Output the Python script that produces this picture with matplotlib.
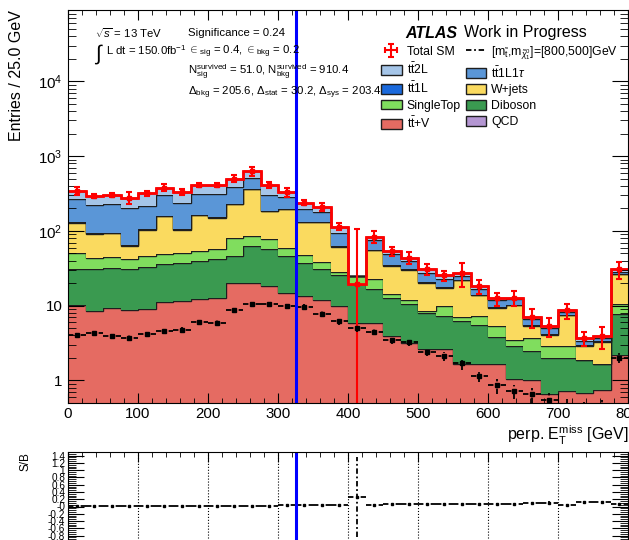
import numpy as np
import matplotlib
matplotlib.use('Agg')
import matplotlib.pyplot as plt
from matplotlib.ticker import MultipleLocator, LogLocator, FixedLocator, FuncFormatter, NullFormatter
from matplotlib.patches import Patch
from matplotlib.lines import Line2D

plt.rcParams['font.family'] = ['Liberation Sans', 'DejaVu Sans']
plt.rcParams['mathtext.fontset'] = 'custom'
plt.rcParams['mathtext.rm'] = 'Liberation Sans'
plt.rcParams['mathtext.it'] = 'Liberation Sans:italic'
plt.rcParams['mathtext.bf'] = 'Liberation Sans:bold'

# perp. MET in 25 GeV bins, 0 - 800 GeV
bin_edges = np.arange(0, 825, 25)

# background yields per bin (stacked bottom -> top)
ttV = [10.2, 8.5, 9.2, 8.7, 8.9, 11.2, 11.5, 12.4, 12.8, 19.9, 19.9, 18.3, 14.6, 13.5, 11.9, 9.9,
       5.8, 5.8, 3.9, 3.2, 2.65, 2.6, 1.64, 1.64, 1.64, 1.03, 1.0, 0.65, 0.72, 0.68, 0.74, 2.2]
diboson = [20.4, 22.7, 23.0, 22.5, 23.7, 24.5, 26.1, 27.2, 29.7, 26.1, 43.1, 39.7, 31.6, 24.1, 19.4, 15.5,
           13.5, 11.1, 8.6, 7.2, 5.25, 4.7, 4.56, 3.86, 2.16, 1.87, 1.5, 1.35, 1.28, 1.19, 0.9, 5.5]
singletop = [20.4, 12.6, 12.8, 10.5, 13.4, 12.9, 13.4, 14.4, 14.5, 35.0, 22.5, 19.0, 12.3, 9.5, 7.1, 2.8,
             5.6, 5.6, 1.7, 1.7, 0.6, 2.6, 0.9, 1.8, 1.5, 0.6, 1.2, 0.9, 0.9, 0.0, 0.0, 2.7]
wjets = [78.0, 48.2, 48.0, 21.3, 57.0, 109.4, 52.0, 108.0, 94.0, 146.0, 274.5, 108.0, 136.5, 84.9, 93.6, 33.3,
         0.0, 33.1, 19.7, 17.9, 11.8, 7.5, 14.9, 6.4, 4.1, 6.6, 1.7, 1.2, 4.5, 1.03, 1.66, 15.9]
tt1L = [2.0, 1.5, 1.5, 2.5, 1.5, 2.0, 1.5, 2.0, 2.0, 2.0, 3.0, 2.0, 2.0, 1.5, 1.5, 1.0,
        0.0, 0.8, 0.6, 0.5, 0.4, 0.3, 0.3, 0.3, 0.2, 0.2, 0.1, 0.1, 0.1, 0.1, 0.1, 0.4]
tt1L1tau = [134.0, 128.5, 132.5, 139.5, 111.5, 140.0, 134.5, 145.0, 156.0, 158.0, 153.0, 113.0, 91.0, 65.5, 45.5, 32.5,
            0.0, 19.2, 14.1, 9.1, 6.9, 5.3, 2.6, 2.9, 2.3, 1.9, 1.2, 0.8, 0.8, 0.4, 0.3, 1.8]
tt2L = [78.0, 72.0, 76.0, 74.0, 103.0, 80.0, 93.0, 103.0, 103.0, 114.0, 118.0, 112.0, 44.0, 40.0, 32.0, 19.0,
        0.0, 8.4, 5.3, 4.2, 3.0, 2.5, 2.7, 1.4, 0.6, 0.6, 0.4, 0.3, 0.4, 0.3, 0.2, 2.1]
qcd = [0.0, 0.0, 0.0, 0.0, 0.0, 0.0, 0.0, 0.0, 0.0, 0.0, 0.0, 0.0, 0.0, 0.0, 0.0, 0.0,
       0.0, 0.0, 0.0, 0.0, 0.0, 0.0, 0.0, 0.0, 0.0, 0.0, 0.0, 0.0, 0.0, 0.0, 0.0, 0.0]

total_sm = [343, 294, 303, 279, 319, 380, 332, 412, 412, 501, 634, 412, 332, 239, 211, 114,
            19.7, 84, 53.9, 43.8, 30.6, 25.5, 27.6, 18.3, 12.5, 12.8, 7.1, 5.3, 8.7, 3.7, 3.9, 30.6]
total_err = [40, 15, 15, 50, 25, 40, 30, 25, 20, 50, 90, 35, 45, 20, 28, 12,
             85, 15, 8, 8, 5, 4, 10, 4, 2.5, 3, 2, 1.5, 2, 0.8, 1.3, 8]

# signal point [m_stop, m_LSP] = [800, 500] GeV
signal = [4.0, 4.3, 3.9, 3.7, 4.2, 4.6, 4.8, 6.0, 5.9, 8.7, 10.4, 10.4, 9.9, 9.7, 7.8, 6.2,
          5.0, 4.5, 3.5, 3.3, 2.4, 2.1, 1.7, 1.14, 0.86, 0.72, 0.65, 0.55, 0.45, 0.42, 0.45, 2.0]
signal_err = [0.3, 0.3, 0.3, 0.3, 0.3, 0.35, 0.4, 0.5, 0.5, 0.7, 0.8, 0.8, 0.8, 0.8, 0.7, 0.6,
              0.5, 0.5, 0.4, 0.4, 0.3, 0.3, 0.3, 0.2, 0.2, 0.15, 0.15, 0.12, 0.12, 0.1, 0.1, 0.3]

cut_value = 325

centers = 0.5 * (bin_edges[:-1] + bin_edges[1:])
half_width = 0.5 * np.diff(bin_edges)

stack = [
    (ttV, '#e56b62', r'$\mathrm{t\bar{t}}$+V'),
    (diboson, '#3a9a50', 'Diboson'),
    (singletop, '#80dd5e', 'SingleTop'),
    (wjets, '#fada5f', 'W+jets'),
    (tt1L, '#1a69dc', r'$\mathrm{t\bar{t}}$1L'),
    (tt1L1tau, '#5a96d7', r'$\mathrm{t\bar{t}}$1L1$\tau$'),
    (tt2L, '#a5c5e8', r'$\mathrm{t\bar{t}}$2L'),
    (qcd, '#b496d2', 'QCD'),
]
colors = {lab: c for _, c, lab in stack}

fig = plt.figure(figsize=(6.29, 5.40), dpi=100)
ax = fig.add_axes([68 / 629, 1 - 403 / 540, 560 / 629, 393 / 540])
rax = fig.add_axes([68 / 629, -21 / 540, 560 / 629, 109 / 540])

# stacked backgrounds
bottom = np.full(len(total_sm), 1e-3)
for vals, color, label in stack:
    top = bottom + np.array(vals)
    ax.stairs(top, bin_edges, baseline=bottom, fill=True, color=color, lw=0)
    ax.stairs(top, bin_edges, baseline=None, color='#1e1e1e', lw=1.0)
    bottom = top

# total SM with uncertainties
ax.stairs(total_sm, bin_edges, baseline=None, color='red', lw=2.0)
ax.errorbar(centers, total_sm, yerr=total_err, fmt='s', ms=3, color='red',
            elinewidth=1.5, capsize=2.5, capthick=1.5)

# signal
dashdot = (0, (3, 1.5, 1, 1.5))
eb = ax.errorbar(centers, signal, xerr=half_width, yerr=signal_err, fmt='s', ms=2.5,
                 color='black', elinewidth=1.3, capsize=0)
for lc in eb[2]:
    lc.set_linestyle(dashdot)

ax.axvline(cut_value, color='#0000ff', lw=2.2)

ax.set_yscale('log')
ax.set_xlim(0, 800)
ax.set_ylim(0.5, 9e4)

ax.xaxis.set_major_locator(MultipleLocator(100))
ax.xaxis.set_minor_locator(MultipleLocator(20))
ax.yaxis.set_major_locator(LogLocator(base=10, numticks=10))
ax.yaxis.set_minor_locator(LogLocator(base=10, subs=np.arange(2, 10), numticks=20))
ax.yaxis.set_minor_formatter(NullFormatter())


def log_label(v, pos):
    if v == 1:
        return '1'
    if v == 10:
        return '10'
    return r'$10^{%d}$' % int(round(np.log10(v)))


ax.yaxis.set_major_formatter(FuncFormatter(log_label))
ax.tick_params(which='both', direction='in', top=True, right=True, labelsize=10.8, colors='black')
ax.tick_params(axis='x', which='major', length=7.2, pad=3)
ax.tick_params(axis='x', which='minor', length=3.6)
ax.tick_params(axis='y', which='major', length=11.5, pad=4)
ax.tick_params(axis='y', which='minor', length=5.8)

ax.set_ylabel('Entries / 25.0 GeV', loc='top', fontsize=11.5, labelpad=10)
ax.set_xlabel(r'perp. E$_{\mathrm{T}}^{\mathrm{miss}}$ [GeV]', loc='right', fontsize=11.5, labelpad=2)

# legend
sm_proxy = ax.errorbar([np.nan], [np.nan], xerr=[1], yerr=[1], color='red',
                       elinewidth=1.5, capsize=2.5, capthick=1.5, fmt='none')
sig_proxy = Line2D([], [], color='black', ls=dashdot, lw=1.3)


def box(label):
    return Patch(facecolor=colors[label], edgecolor='#1e1e1e', lw=1.0)


handles = [sm_proxy, box(r'$\mathrm{t\bar{t}}$2L'), box(r'$\mathrm{t\bar{t}}$1L'), box('SingleTop'),
           box(r'$\mathrm{t\bar{t}}$+V'),
           sig_proxy, box(r'$\mathrm{t\bar{t}}$1L1$\tau$'), box('W+jets'), box('Diboson'), box('QCD')]
labels = ['Total SM', r'$\mathrm{t\bar{t}}$2L', r'$\mathrm{t\bar{t}}$1L', 'SingleTop', r'$\mathrm{t\bar{t}}$+V',
          r'[m$_{\tilde{\mathrm{t}}}$,m$_{\tilde{\chi}_1^0}$]=[800,500]GeV', r'$\mathrm{t\bar{t}}$1L1$\tau$',
          'W+jets', 'Diboson', 'QCD']
fig.legend(handles, labels, ncol=2, loc='upper left', bbox_to_anchor=(381 / 629, 1 - 44 / 540),
           frameon=False, fontsize=8.8, borderpad=0, borderaxespad=0, handlelength=1.7,
           handleheight=0.85, handletextpad=0.4, columnspacing=0.4, labelspacing=0.3)

fig.text(405 / 629, 1 - 33 / 540, 'ATLAS', fontsize=11.5, weight='bold', style='italic', va='center')
fig.text(464 / 629, 1 - 33 / 540, 'Work in Progress', fontsize=11.5, va='center')

fig.text(95 / 629, 1 - 33 / 540, r'$\sqrt{s}$ = 13 TeV', fontsize=8.2, va='center')
fig.text(94 / 629, 1 - 54 / 540, r'$\int$', fontsize=15, va='center')
fig.text(106 / 629, 1 - 50 / 540, r'L dt = 150.0fb$^{-1}$', fontsize=8.2, va='center')
fig.text(188 / 629, 1 - 33 / 540, 'Significance = 0.24', fontsize=8.2, va='center')
fig.text(188 / 629, 1 - 52 / 540, r'${\in}_{\mathrm{sig}}$ = 0.4, ${\in}_{\mathrm{bkg}}$ = 0.2',
         fontsize=8.2, va='center')
fig.text(188 / 629, 1 - 72 / 540,
         r'N$_{\mathrm{sig}}^{\mathrm{survived}}$ = 51.0, N$_{\mathrm{bkg}}^{\mathrm{survived}}$ = 910.4',
         fontsize=8.2, va='center')
fig.text(188 / 629, 1 - 93 / 540,
         r'$\Delta_{\mathrm{bkg}}$ = 205.6, $\Delta_{\mathrm{stat}}$ = 30.2, $\Delta_{\mathrm{sys}}$ = 203.4',
         fontsize=8.2, va='center')

# S/B panel
sig_arr = np.array(signal)
tot_arr = np.array(total_sm)
s_over_b = sig_arr / tot_arr
s_over_b_err = s_over_b * np.sqrt((np.array(signal_err) / sig_arr) ** 2 + (np.array(total_err) / tot_arr) ** 2)

reb = rax.errorbar(centers, s_over_b, xerr=half_width, yerr=s_over_b_err, fmt='s', ms=2,
                   color='black', elinewidth=1.3, capsize=0)
for lc in reb[2]:
    lc.set_linestyle(dashdot)
rax.axvline(cut_value, color='#0000ff', lw=2.2)
rax.set_xlim(0, 800)
rax.set_ylim(-1.5, 1.5)
rax.xaxis.set_major_locator(MultipleLocator(100))
rax.xaxis.set_minor_locator(MultipleLocator(20))
rax.yaxis.set_major_locator(FixedLocator(np.round(np.arange(-1.4, 1.41, 0.2), 1)))
rax.yaxis.set_minor_locator(MultipleLocator(0.05))
rax.yaxis.set_major_formatter(FuncFormatter(lambda v, pos: '%g' % round(v, 1)))
rax.grid(axis='x', which='major', color='black', ls=':', lw=0.8)
rax.tick_params(which='both', direction='in', top=True, right=True, labelsize=7.2, labelbottom=False)
rax.tick_params(axis='x', which='major', length=7.2)
rax.tick_params(axis='x', which='minor', length=3.6)
rax.tick_params(axis='y', which='major', length=11.5, pad=2)
rax.tick_params(axis='y', which='minor', length=5.8)
rax.set_ylabel('S/B', loc='top', fontsize=8.5, labelpad=12)

fig.savefig('out.png', dpi=100, facecolor='white')
